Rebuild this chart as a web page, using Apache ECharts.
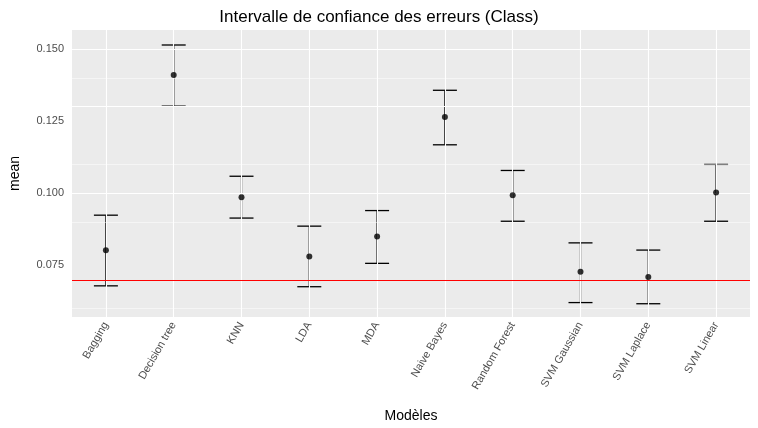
<!DOCTYPE html>
<html><head><meta charset="utf-8">
<script src="https://cdn.jsdelivr.net/npm/echarts@6/dist/echarts.min.js"></script>
<style>html,body{margin:0;padding:0;background:#fff}#c{width:758px;height:428px}</style>
</head><body><div id="c"></div>
<script>
const models = ['Bagging', 'Decision tree', 'KNN', 'LDA', 'MDA', 'Naive Bayes', 'Random Forest', 'SVM Gaussian', 'SVM Laplace', 'SVM Linear'];
const means = [0.0802, 0.1410, 0.0986, 0.0781, 0.0850, 0.1264, 0.0993, 0.0728, 0.0710, 0.1003];
const lower = [0.0679, 0.1302, 0.0914, 0.0676, 0.0757, 0.1168, 0.0903, 0.0621, 0.0617, 0.0903];
const upper = [0.0924, 0.1514, 0.1059, 0.0886, 0.0940, 0.1357, 0.1079, 0.0828, 0.0803, 0.1100];
const yTicks = [0.075, 0.100, 0.125, 0.150];
const yMinor = [0.0625, 0.0875, 0.1125, 0.1375];
const refLine = 0.0698;

const chart = echarts.init(document.getElementById('c'));
const whiteLines = [].concat(
  yTicks.map(v => ({yAxis: v, lineStyle: {width: 1.1}})),
  yMinor.map(v => ({yAxis: v, lineStyle: {width: 0.5}})),
  models.map(m => ({xAxis: m, lineStyle: {width: 1.1}}))
);
chart.setOption({
  animation: false,
  title: {text: 'Intervalle de confiance des erreurs (Class)', left: 'center', top: 4,
    textStyle: {fontFamily: 'Liberation Sans', fontSize: 17, fontWeight: 'normal', color: '#000'}},
  grid: {left: 67, right: 8, top: 30, bottom: 110, show: true, backgroundColor: '#EBEBEB', borderWidth: 0},
  xAxis: {type: 'category', data: models, name: 'Modèles', nameLocation: 'middle', nameGap: 92,
    nameTextStyle: {fontFamily: 'Liberation Sans', fontSize: 14, color: '#000'},
    axisLine: {show: false}, axisTick: {alignWithLabel: true, length: 3, lineStyle: {color: '#333'}},
    splitLine: {show: false},
    axisLabel: {rotate: 60, fontFamily: 'Liberation Sans', fontSize: 11, color: '#4D4D4D', margin: 6}},
  yAxis: {type: 'value', min: 0.0571, max: 0.1566, name: 'mean', nameLocation: 'middle', nameGap: 50,
    nameTextStyle: {fontFamily: 'Liberation Sans', fontSize: 14, color: '#000'},
    axisLine: {show: false}, splitLine: {show: false},
    axisTick: {customValues: yTicks, length: 3, lineStyle: {color: '#333'}},
    axisLabel: {customValues: yTicks, fontFamily: 'Liberation Sans', fontSize: 11, color: '#4D4D4D',
      formatter: v => v.toFixed(3)}},
  series: [
    {type: 'line', data: [], z: 1, markLine: {silent: true, symbol: 'none', label: {show: false},
      lineStyle: {color: '#fff', type: 'solid'}, data: whiteLines}},
    {type: 'line', data: [], z: 3, markLine: {silent: true, symbol: 'none', label: {show: false},
      lineStyle: {color: '#FF0000', type: 'solid', width: 1.2}, data: [{yAxis: refLine}]}},
    {type: 'custom', z: 4, data: models.map((m, i) => [i, lower[i], upper[i]]),
      renderItem: (params, api) => {
        const lo = api.coord([api.value(0), api.value(1)]);
        const hi = api.coord([api.value(0), api.value(2)]);
        const w = 12;
        const st = {stroke: '#000', lineWidth: 1.3};
        return {type: 'group', children: [
          {type: 'line', shape: {x1: lo[0], y1: lo[1], x2: hi[0], y2: hi[1]}, style: st},
          {type: 'line', shape: {x1: lo[0] - w, y1: lo[1], x2: lo[0] + w, y2: lo[1]}, style: st},
          {type: 'line', shape: {x1: hi[0] - w, y1: hi[1], x2: hi[0] + w, y2: hi[1]}, style: st}
        ]};
      }},
    {type: 'scatter', z: 5, data: means, symbolSize: 6, itemStyle: {color: '#000'}}
  ]
});
</script></body></html>
